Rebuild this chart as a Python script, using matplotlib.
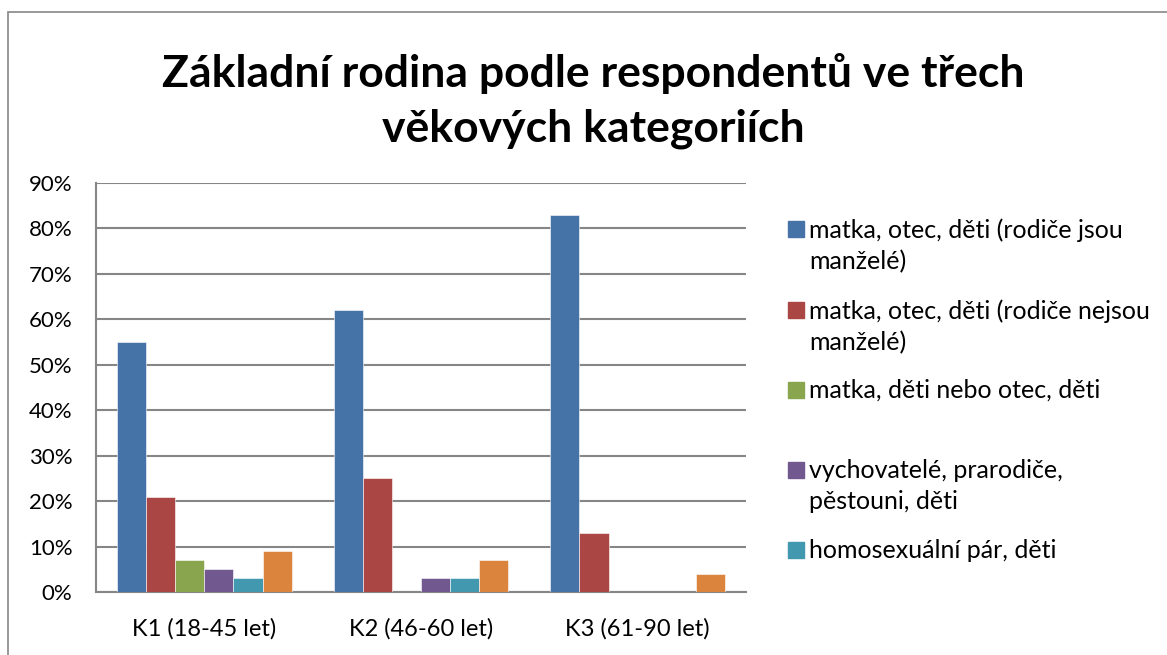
import matplotlib
matplotlib.use("Agg")
import matplotlib.pyplot as plt
from matplotlib.patches import Rectangle
import numpy as np

categories = ["K1 (18-45 let)", "K2 (46-60 let)", "K3 (61-90 let)"]
series_names = [
    "matka, otec, děti (rodiče jsou\nmanželé)",
    "matka, otec, děti (rodiče nejsou\nmanželé)",
    "matka, děti nebo otec, děti",
    "vychovatelé, prarodiče,\npěstouni, děti",
    "homosexuální pár, děti",
    "",  # orange series, its legend entry is cut off in the original
]
manzele = [55, 62, 83]
nemanzele = [21, 25, 13]
jeden_rodic = [7, 0, 0]
vychovatele = [5, 3, 0]
homosexualni = [3, 3, 0]
jine = [9, 7, 4]
colors = ["#4572A7", "#AA4643", "#89A54E", "#71588F", "#4198AF", "#DB843D"]
yticks = [0, 10, 20, 30, 40, 50, 60, 70, 80, 90]

plt.rcParams["font.family"] = ["Lato", "DejaVu Sans"]

W, H = 1167, 655
fig = plt.figure(figsize=(W / 100, H / 100), dpi=100)

# chart frame (right and bottom edges are cropped in the original)
fig.patches.append(Rectangle((8 / W, -0.1), 1.2, 1 - 12 / H + 0.1,
                             transform=fig.transFigure, fill=False,
                             edgecolor="#888888", lw=1.2))

ax = fig.add_axes([96 / W, 1 - 592 / H, (746 - 96) / W, (592 - 183) / H])

data = [manzele, nemanzele, jeden_rodic, vychovatele, homosexualni, jine]
x = np.arange(len(categories))
w = 29 / 216
for i, vals in enumerate(data):
    ax.bar(x + (i - 2.5) * w, vals, w, color=colors[i], zorder=3,
           edgecolor="white", linewidth=0.4)

ax.set_xlim(-0.5, 2.5)
ax.set_ylim(0, 90)
ax.set_yticks(yticks)
ax.set_yticklabels([f"{v}%" for v in yticks])
ax.set_xticks(x)
ax.set_xticklabels(categories)
ax.tick_params(axis="both", length=0, colors="black")
ax.tick_params(axis="y", pad=17, labelsize=16)
ax.tick_params(axis="x", pad=19, labelsize=17)
ax.yaxis.grid(True, color="#868686", lw=1.5, zorder=0)
for s in ["top", "right"]:
    ax.spines[s].set_visible(False)
ax.spines["left"].set_color("#868686")
ax.spines["bottom"].set_color("#868686")
ax.spines["left"].set_linewidth(1.5)
ax.spines["bottom"].set_linewidth(1.5)

fig.text(593 / W, 1 - 101 / H,
         "Základní rodina podle respondentů ve třech\nvěkových kategoriích",
         ha="center", va="center", fontsize=32, fontweight="bold",
         linespacing=1.44)

# legend laid out like the Excel one: evenly spaced entries
leg_y = [229, 310, 390, 470, 550]
for name, c, y in zip(series_names[:5], colors[:5], leg_y):
    fig.patches.append(Rectangle((788 / W, 1 - (y + 8) / H), 16 / W, 16 / H,
                                 transform=fig.transFigure, color=c))
    fig.text(809 / W, 1 - (y - 11) / H, name, ha="left", va="top",
             fontsize=18, linespacing=1.42)

fig.savefig("out.png", dpi=100)
